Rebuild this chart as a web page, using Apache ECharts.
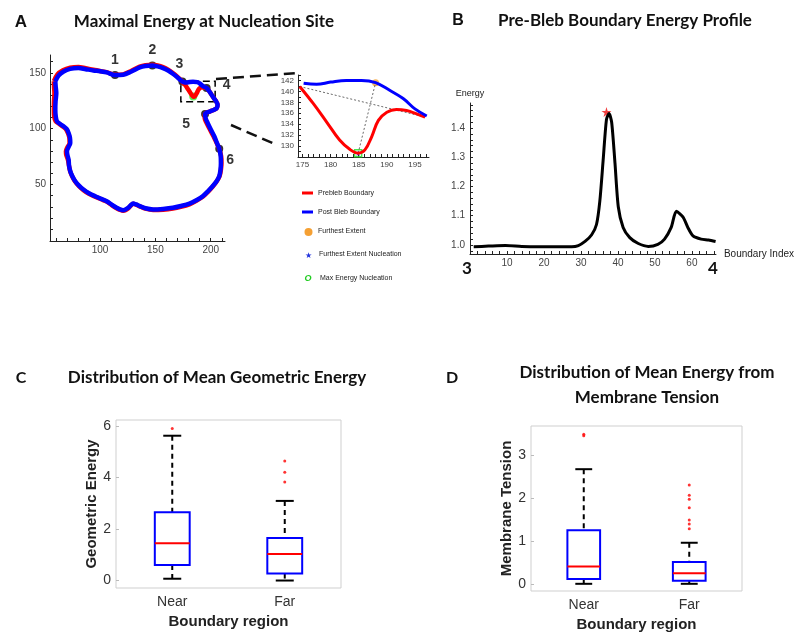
<!DOCTYPE html>
<html>
<head>
<meta charset="utf-8">
<script src="https://cdn.jsdelivr.net/npm/echarts@6/dist/echarts.min.js"></script>
<style>
html, body { margin: 0; padding: 0; background: #fff; }
#main { width: 795px; height: 633px; }
</style>
</head>
<body>
<div id="main"></div>
<script>
// A: cell boundary before / after the bleb
const preBleb = [[58.3,142.5],[61.5,148.5],[66.5,152.2],[73,154.5],[80.5,155.2],[87,154],[94,152.8],[100,151.6],[106,150.6],[113.5,148.2],[120.9,148.6],[128.4,151.8],[135.9,155.5],[141,156.8],[147.3,157.2],[152,156.5],[156.9,155],[161.5,152.8],[165.8,149.8],[170,146.3],[174.2,142.3],[175,141],[177,139],[179,136],[181,133],[183,130],[184.5,128.5],[186,129.5],[187.5,132],[189,135],[190.5,136.5],[192,137],[194,136.6],[196.3,136.3],[199,133],[201.7,128.9],[204.5,125],[206.2,121.4],[205.5,118.5],[203.2,117],[199.5,115.5],[196,114.2],[194.6,112.8],[194.6,109],[196.3,105.1],[199.4,99],[202.5,93.2],[205.2,87.5],[207.7,82.1],[209.4,75.5],[209.7,69.3],[209.2,63],[208,57.4],[205,52.2],[201.7,48],[197.5,43.5],[192.8,39],[187,35.4],[180.8,32.3],[173,30],[165.8,28.5],[157,27.5],[147.9,27.2],[141,28.4],[135.9,30.5],[132.5,32],[129.9,32.8],[127.5,30.8],[125.4,28.6],[122.5,26.8],[120.9,26.6],[118,27.4],[115,28.8],[110.5,31.6],[106,34.7],[101,36.8],[95.5,39.2],[90,41.8],[85,45],[81,48.5],[77.6,52.5],[75,57],[73.1,61.5],[72,66.5],[71,72.3],[69.5,76.5],[69.2,79.8],[70.6,83.5],[72.5,87.2],[72.3,92],[71,96.1],[69,99.8],[66.3,102],[62.8,104.5],[59.8,106.8],[58.6,111],[58.3,117],[58.4,124],[58.8,131.8],[58.5,137],[58.3,142.5]];
const postBleb = [[59.6,142.3],[62.5,147.5],[67.1,151.2],[73,153.5],[80.5,154.2],[87,153.2],[94,152.1],[100,151.3],[106,150.3],[113.5,147.9],[120.9,148.2],[128.4,151.2],[135.9,154.8],[141,156],[147.3,156.5],[152,155.7],[156.9,154.2],[161.5,152],[165.8,149.1],[170,145.8],[174.2,142.3],[176,141.5],[178,141.3],[181,141.7],[184,141.9],[187.8,141.6],[190,140.5],[193,138],[196.3,136.3],[199,133],[201.7,128.9],[204.5,125],[206.2,121.4],[205.5,118.5],[203.2,117],[199.5,115.5],[196,114.2],[194.9,113.1],[195.5,109],[197.2,105.1],[200.2,99],[203.2,93.2],[205.5,87.5],[207.7,82.1],[209,75.5],[209.2,69.3],[208.8,63],[207.7,57.4],[205,52.5],[201.7,48.5],[197.5,44],[192.8,39.6],[187,36],[180.8,33],[173,30.8],[165.8,29.2],[157,28.2],[147.9,27.7],[141,28.8],[135.9,30.7],[132.5,32.2],[129.9,33],[127.5,31.2],[125.4,29.2],[122.5,27.4],[120.9,27.1],[118,27.8],[115,29.2],[110.5,32],[106,35.1],[101,37.2],[95.5,39.6],[90,42.2],[85,45.5],[81,49],[77.6,53],[75,57.5],[73.1,61.9],[72,67],[71.6,72.3],[70.5,76.5],[70.1,79.8],[71.5,83.5],[73.1,87.2],[72.8,92],[71.6,96.1],[69.8,99.8],[67.1,102.1],[64,104.2],[61.1,106.5],[60,111],[59.6,117],[59.8,124],[60.5,131.8],[60,137],[59.6,142.3]];
const sitePoints = [[113.5,147.9],[147.3,156.5],[174.4,142.2],[196.3,136.3],[194.9,113.1],[207.7,82.1]];
const siteNames = ['1', '2', '3', '4', '5', '6'];
const maxEnergySite = [[184.2,128.8]];
const zoomBox = [[173, 142.5], [204, 124]];

// A inset
const insetPre = [[174.5,140.9],[176.9,137.8],[179.3,134.4],[181.6,131.1],[183.4,129.4],[184.9,128.7],[186.1,129.3],[187.3,131.7],[188.5,134.7],[190,136.2],[191.7,136.7],[193.5,136.5],[195.3,135.9],[196.8,135.3]];
const insetPost = [[175.2,141.5],[177.5,141.3],[180,141.7],[182.8,142],[185.5,142],[188,141.6],[190.5,140.2],[192.9,138.7],[195,136.8],[197.1,135.5]];
const chordLine = [[174.5,140.9],[196.8,135.3]];
const extentLine = [[184.9,128.7],[188,141.6]];
const furthestExtent = [[188,141.6]];
const nucleation = [[184.9,128.7]];

// B
const energyProfile = [[1,0.994],[5,0.996],[9.6,0.998],[14,0.995],[18.5,0.994],[23,0.994],[27.5,0.994],[29.3,0.998],[31.1,1.012],[32.9,1.035],[34.2,1.07],[35.1,1.15],[36,1.29],[36.9,1.43],[37.6,1.45],[38.3,1.42],[39.2,1.28],[40.1,1.13],[41.4,1.06],[43.2,1.025],[45.5,1.005],[48.2,0.995],[50.8,1.002],[52.6,1.02],[54.4,1.06],[55.8,1.115],[57.6,1.095],[58.9,1.06],[60.3,1.031],[62.5,1.02],[64.5,1.017],[66.4,1.012]];
const energyPeak = [[36.9,1.455]];

// C / D  (low whisker, Q1, median, Q3, high whisker)
const regions = ['Near', 'Far'];
const geoStats = [[0.07,0.6,1.45,2.65,5.62],[0,0.27,1.03,1.65,3.09]];
const geoOutliers = [['Near',5.9],['Far',4.64],['Far',4.2],['Far',3.82]];
const tensionStats = [[0,0.115,0.406,1.25,2.68],[0,0.07,0.245,0.51,0.96]];
const tensionOutliers = [['Near',3.5],['Near',3.46],['Far',2.31],['Far',2.07],['Far',1.98],['Far',1.78],['Far',1.49],['Far',1.4],['Far',1.29]];

// tick labels
const contourXTicks = [100, 150, 200];
const contourYTicks = [50, 100, 150];
const insetXTicks = [175, 180, 185, 190, 195];
const insetYTicks = [130, 132, 134, 136, 138, 140, 142];
const indexTicks = [10, 20, 30, 40, 50, 60];
const energyTicks = [1.0, 1.1, 1.2, 1.3, 1.4];
const geoTicks = [0, 2, 4, 6];
const tensionTicks = [0, 1, 2, 3];

function steps(a, b, s) {
  const out = [];
  for (let v = a; v <= b + 1e-9; v += s) out.push(+v.toFixed(4));
  return out;
}

const chart = echarts.init(document.getElementById('main'));

function mAxis(gridIndex, min, max, labels, ticks, fontSize, extra) {
  return Object.assign({
    type: 'value', gridIndex, min, max,
    axisLine: { show: true, onZero: false, lineStyle: { color: '#222', width: 1 } },
    axisTick: { show: true, inside: true, length: 3, customValues: ticks, lineStyle: { color: '#222' } },
    axisLabel: { customValues: labels, fontSize: fontSize, color: '#444', margin: 4 },
    splitLine: { show: false }
  }, extra || {});
}

function boxAxisX(gridIndex) {
  return {
    type: 'category', gridIndex, data: regions,
    axisLine: { show: false }, axisTick: { show: false },
    axisLabel: { fontSize: 14, color: '#333', margin: 7 },
    name: 'Boundary region', nameLocation: 'middle', nameGap: 26,
    nameTextStyle: { fontSize: 15, fontWeight: 'bold', color: '#222' }
  };
}

function boxAxisY(gridIndex, min, max, ticks, name) {
  return {
    type: 'value', gridIndex, min, max,
    axisLine: { show: false },
    axisTick: { show: true, inside: true, length: 3, customValues: ticks, lineStyle: { color: '#bbb' } },
    axisLabel: { customValues: ticks, fontSize: 14, color: '#333', margin: 5 },
    splitLine: { show: false },
    name: name, nameLocation: 'middle', nameGap: 14,
    nameTextStyle: { fontSize: 15, fontWeight: 'bold', color: '#222' }
  };
}

function renderBox(params, api) {
  const x = api.value(0);
  const lo = api.coord([x, api.value(1)]);
  const q1 = api.coord([x, api.value(2)]);
  const md = api.coord([x, api.value(3)]);
  const q3 = api.coord([x, api.value(4)]);
  const hi = api.coord([x, api.value(5)]);
  const band = api.size([1, 0])[0];
  const bw = band * 0.31, cw = band * 0.16, cx = lo[0];
  const dash = { stroke: '#000', lineWidth: 2, lineDash: [5, 4] };
  const solid = { stroke: '#000', lineWidth: 2 };
  return {
    type: 'group',
    children: [
      { type: 'line', shape: { x1: cx, y1: hi[1], x2: cx, y2: q3[1] }, style: dash },
      { type: 'line', shape: { x1: cx, y1: q1[1], x2: cx, y2: lo[1] }, style: dash },
      { type: 'line', shape: { x1: cx - cw / 2, y1: hi[1], x2: cx + cw / 2, y2: hi[1] }, style: solid },
      { type: 'line', shape: { x1: cx - cw / 2, y1: lo[1], x2: cx + cw / 2, y2: lo[1] }, style: solid },
      { type: 'rect', shape: { x: cx - bw / 2, y: q3[1], width: bw, height: q1[1] - q3[1] },
        style: { fill: 'none', stroke: '#0000ff', lineWidth: 2 } },
      { type: 'line', shape: { x1: cx - bw / 2, y1: md[1], x2: cx + bw / 2, y2: md[1] },
        style: { stroke: '#ff0000', lineWidth: 2 } }
    ]
  };
}

const starPath = 'path://M50,0 L61,35 L98,35 L68,57 L79,91 L50,70 L21,91 L32,57 L2,35 L39,35 Z';
const labelPlace = [
  { position: 'top', distance: 4 },
  { position: 'top', distance: 4 },
  { position: 'top', distance: 6, offset: [-3, 0] },
  { position: 'right', distance: 8, offset: [4, -3] },
  { position: 'left', distance: 8, offset: [-3, 10] },
  { position: 'right', distance: 3, offset: [0, 11] }
];

function txt(text, x, y, size, opts) {
  return {
    type: 'text', x: x, y: y, silent: true,
    style: Object.assign({
      text: text, fontSize: size, fontFamily: 'Lato', fontWeight: 'bold', fill: '#111',
      align: 'center', verticalAlign: 'middle'
    }, opts || {})
  };
}
const small = { fontFamily: 'Liberation Sans', fontWeight: 'normal', align: 'left', fill: '#222' };

const option = {
  backgroundColor: '#fff',
  animation: false,
  textStyle: { fontFamily: 'Liberation Sans' },
  grid: [
    { left: 50, top: 55, width: 175, height: 186 },
    { left: 298, top: 75, width: 131, height: 82 },
    { left: 470, top: 103, width: 248, height: 151 },
    { left: 116, top: 420, width: 225, height: 168, show: true, borderColor: '#cfcfcf', borderWidth: 1 },
    { left: 531, top: 426, width: 211, height: 168, show: true, borderColor: '#cfcfcf', borderWidth: 1 }
  ],
  xAxis: [
    mAxis(0, 54.8, 212.9, contourXTicks, steps(60, 210, 10), 10),
    mAxis(1, 174.2, 197.5, insetXTicks, steps(175, 197, 1), 8),
    mAxis(2, 0, 66.5, indexTicks, steps(2, 66, 2), 10, {
      name: 'Boundary Index', nameLocation: 'end', nameGap: 8,
      nameTextStyle: { fontSize: 10, color: '#222', align: 'left', verticalAlign: 'middle' }
    }),
    boxAxisX(3),
    boxAxisX(4)
  ],
  yAxis: [
    mAxis(0, -0.5, 165.9, contourYTicks, steps(10, 160, 10), 10),
    mAxis(1, 128, 143, insetYTicks, steps(128, 143, 1), 8),
    mAxis(2, 0.969, 1.486, energyTicks, steps(0.98, 1.48, 0.02), 10, {
      axisLabel: { customValues: energyTicks, fontSize: 10, color: '#444', margin: 5,
        formatter: v => v.toFixed(1) },
      name: 'Energy', nameLocation: 'end', nameGap: 5,
      nameTextStyle: { fontSize: 9, color: '#222' }
    }),
    boxAxisY(3, -0.29, 6.23, geoTicks, 'Geometric Energy'),
    boxAxisY(4, -0.168, 3.69, tensionTicks, 'Membrane Tension')
  ],
  series: [
    { type: 'line', xAxisIndex: 0, yAxisIndex: 0, data: preBleb, showSymbol: false, smooth: 0.3,
      lineStyle: { color: '#ff0000', width: 4.5 } },
    { type: 'line', xAxisIndex: 0, yAxisIndex: 0, data: postBleb, showSymbol: false, smooth: 0.3,
      lineStyle: { color: '#0000ff', width: 4.5 },
      markArea: {
        silent: true, label: { show: false },
        itemStyle: { color: 'rgba(0,0,0,0)', borderColor: '#000', borderWidth: 1.5, borderType: [7, 4] },
        data: [[{ coord: zoomBox[0] }, { coord: zoomBox[1] }]]
      } },
    { type: 'scatter', xAxisIndex: 0, yAxisIndex: 0, symbolSize: 8,
      itemStyle: { color: '#000' },
      data: sitePoints.map((p, i) => ({
        value: p,
        label: Object.assign({ show: true, formatter: siteNames[i], fontSize: 14, fontWeight: 'bold',
          fontFamily: 'Liberation Sans', color: '#000' }, labelPlace[i])
      })) },
    { type: 'scatter', xAxisIndex: 0, yAxisIndex: 0, symbolSize: 8, data: maxEnergySite,
      itemStyle: { color: '#33ee33' } },

    { type: 'line', xAxisIndex: 1, yAxisIndex: 1, data: chordLine, showSymbol: false,
      lineStyle: { color: '#444', width: 0.8, type: [2, 2] } },
    { type: 'line', xAxisIndex: 1, yAxisIndex: 1, data: extentLine, showSymbol: false,
      lineStyle: { color: '#444', width: 0.8, type: [2, 2] } },
    { type: 'line', xAxisIndex: 1, yAxisIndex: 1, data: insetPre, showSymbol: false, smooth: 0.4,
      lineStyle: { color: '#ff0000', width: 3 } },
    { type: 'line', xAxisIndex: 1, yAxisIndex: 1, data: insetPost, showSymbol: false, smooth: 0.4,
      lineStyle: { color: '#0000ff', width: 3 } },
    { type: 'scatter', xAxisIndex: 1, yAxisIndex: 1, symbolSize: 7, data: furthestExtent,
      itemStyle: { color: '#f5a033' } },
    { type: 'scatter', xAxisIndex: 1, yAxisIndex: 1, symbol: 'rect', symbolSize: 7, data: nucleation,
      itemStyle: { color: 'rgba(0,0,0,0)', borderColor: '#22dd22', borderWidth: 1.5 } },
    { type: 'scatter', xAxisIndex: 1, yAxisIndex: 1, symbol: starPath, symbolSize: 6, data: nucleation,
      itemStyle: { color: '#2233dd' } },

    { type: 'line', xAxisIndex: 2, yAxisIndex: 2, data: energyProfile, showSymbol: false, smooth: 0.25,
      lineStyle: { color: '#000', width: 3 } },
    { type: 'scatter', xAxisIndex: 2, yAxisIndex: 2, symbol: starPath, symbolSize: 10, data: energyPeak,
      itemStyle: { color: '#ee1111' } },

    { type: 'custom', xAxisIndex: 3, yAxisIndex: 3, renderItem: renderBox,
      encode: { x: 0, y: [1, 2, 3, 4, 5] },
      data: geoStats.map((s, i) => [i].concat(s)) },
    { type: 'scatter', xAxisIndex: 3, yAxisIndex: 3, symbolSize: 3, data: geoOutliers,
      itemStyle: { color: '#ff0000' } },
    { type: 'custom', xAxisIndex: 4, yAxisIndex: 4, renderItem: renderBox,
      encode: { x: 0, y: [1, 2, 3, 4, 5] },
      data: tensionStats.map((s, i) => [i].concat(s)) },
    { type: 'scatter', xAxisIndex: 4, yAxisIndex: 4, symbolSize: 3, data: tensionOutliers,
      itemStyle: { color: '#ff0000' } }
  ],
  graphic: [
    txt('A', 21, 22, 17, { fontFamily: 'Liberation Sans' }),
    txt('Maximal Energy at Nucleation Site', 204, 22, 17),
    txt('B', 458, 21, 16, { fontFamily: 'Liberation Sans' }),
    txt('Pre-Bleb Boundary Energy Profile', 625, 21, 17),
    txt('C', 21, 378, 16),
    txt('Distribution of Mean Geometric Energy', 217, 378, 17),
    txt('D', 452, 378, 16),
    txt('Distribution of Mean Energy from', 647, 373, 17),
    txt('Membrane Tension', 647, 398, 17),
    txt('3', 467, 269, 17),
    txt('4', 713, 269, 17),
    // zoom connectors
    { type: 'line', silent: true, shape: { x1: 216, y1: 79, x2: 297, y2: 73 },
      style: { stroke: '#111', lineWidth: 2.5, lineDash: [11, 6] } },
    { type: 'line', silent: true, shape: { x1: 231, y1: 125, x2: 277, y2: 145 },
      style: { stroke: '#111', lineWidth: 2.5, lineDash: [11, 6] } },
    // legend
    { type: 'line', silent: true, shape: { x1: 302, y1: 193, x2: 313, y2: 193 },
      style: { stroke: '#ff0000', lineWidth: 3 } },
    txt('Prebleb Boundary', 318, 193, 7, small),
    { type: 'line', silent: true, shape: { x1: 302, y1: 212, x2: 313, y2: 212 },
      style: { stroke: '#0000ff', lineWidth: 3 } },
    txt('Post Bleb Boundary', 318, 212, 7, small),
    { type: 'circle', silent: true, shape: { cx: 308.5, cy: 232, r: 4 }, style: { fill: '#f5a033' } },
    txt('Furthest Extent', 318, 231, 7, small),
    txt('\u2605', 308, 256, 8, Object.assign({}, small, { align: 'center', fill: '#2233dd' })),
    txt('Furthest Extent Nucleation', 319, 254, 7, small),
    txt('O', 308, 279, 9, Object.assign({}, small, { align: 'center', fill: '#22cc22', fontStyle: 'italic', fontWeight: 'bold' })),
    txt('Max Energy Nucleation', 320, 278, 7, small)
  ]
};

chart.setOption(option);
</script>
</body>
</html>
